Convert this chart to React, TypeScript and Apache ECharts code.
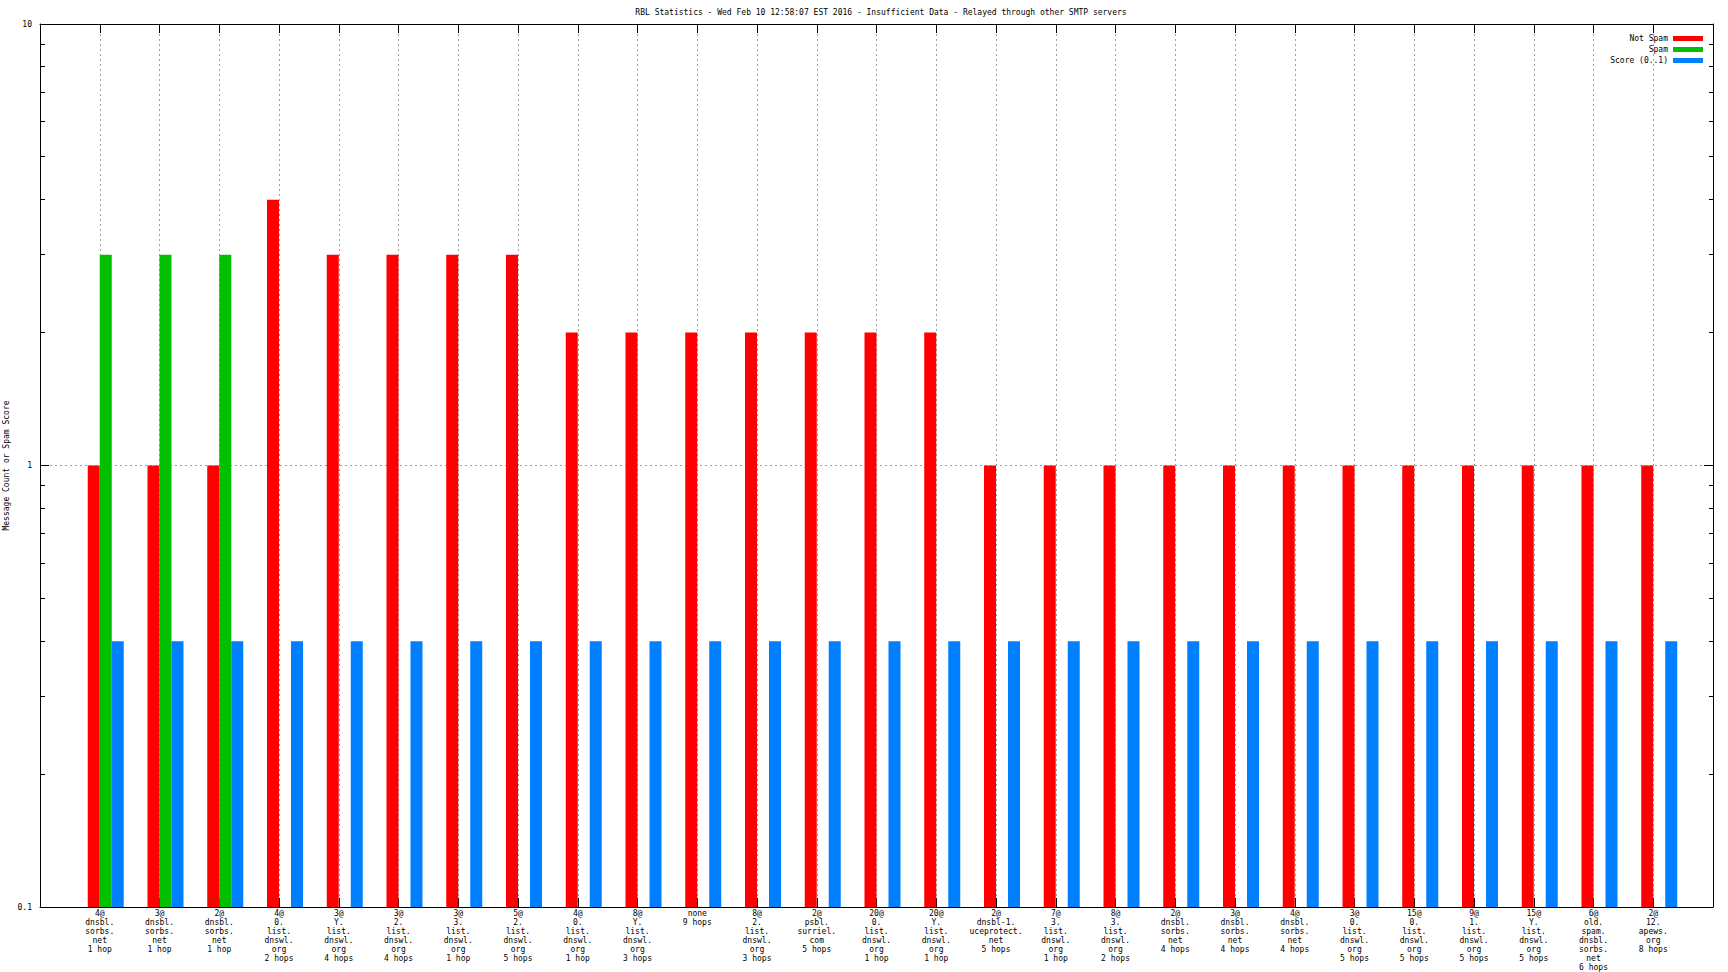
import React, { useEffect, useRef } from "react";
import * as echarts from "echarts";

const TITLE =
  "RBL Statistics - Wed Feb 10 12:58:07 EST 2016 - Insufficient Data - Relayed through other SMTP servers";
const Y_NAME = "Message Count or Spam Score";

const categories: string[] = [
  "4@\ndnsbl.\nsorbs.\nnet\n1 hop",
  "3@\ndnsbl.\nsorbs.\nnet\n1 hop",
  "2@\ndnsbl.\nsorbs.\nnet\n1 hop",
  "4@\n0.\nlist.\ndnswl.\norg\n2 hops",
  "3@\nY.\nlist.\ndnswl.\norg\n4 hops",
  "3@\n2.\nlist.\ndnswl.\norg\n4 hops",
  "3@\n3.\nlist.\ndnswl.\norg\n1 hop",
  "5@\n2.\nlist.\ndnswl.\norg\n5 hops",
  "4@\n0.\nlist.\ndnswl.\norg\n1 hop",
  "8@\nY.\nlist.\ndnswl.\norg\n3 hops",
  "none\n9 hops",
  "8@\n2.\nlist.\ndnswl.\norg\n3 hops",
  "2@\npsbl.\nsurriel.\ncom\n5 hops",
  "20@\n0.\nlist.\ndnswl.\norg\n1 hop",
  "20@\nY.\nlist.\ndnswl.\norg\n1 hop",
  "2@\ndnsbl-1.\nuceprotect.\nnet\n5 hops",
  "7@\n3.\nlist.\ndnswl.\norg\n1 hop",
  "8@\n3.\nlist.\ndnswl.\norg\n2 hops",
  "2@\ndnsbl.\nsorbs.\nnet\n4 hops",
  "3@\ndnsbl.\nsorbs.\nnet\n4 hops",
  "4@\ndnsbl.\nsorbs.\nnet\n4 hops",
  "3@\n0.\nlist.\ndnswl.\norg\n5 hops",
  "15@\n0.\nlist.\ndnswl.\norg\n5 hops",
  "9@\n1.\nlist.\ndnswl.\norg\n5 hops",
  "15@\nY.\nlist.\ndnswl.\norg\n5 hops",
  "6@\nold.\nspam.\ndnsbl.\nsorbs.\nnet\n6 hops",
  "2@\n12.\napews.\norg\n8 hops",
];

const notSpam: (number | null)[] = [
  1, 1, 1, 4, 3, 3, 3, 3, 2, 2, 2, 2, 2, 2, 2, 1, 1, 1, 1, 1, 1, 1, 1, 1, 1, 1, 1,
];
const spam: (number | null)[] = [
  3, 3, 3, null, null, null, null, null, null, null, null, null, null, null, null,
  null, null, null, null, null, null, null, null, null, null, null, null,
];
const score: (number | null)[] = [
  0.4, 0.4, 0.4, 0.4, 0.4, 0.4, 0.4, 0.4, 0.4, 0.4, 0.4, 0.4, 0.4, 0.4, 0.4, 0.4,
  0.4, 0.4, 0.4, 0.4, 0.4, 0.4, 0.4, 0.4, 0.4, 0.4, 0.4,
];
const seriesNames = ["Not Spam", "Spam", "Score (0..1)"];
const seriesColors = ["#ff0000", "#00c000", "#0080ff"];

const yMin = 0.1;
const yMax = 10;
const yMinorTicks = [0.2, 0.3, 0.4, 0.5, 0.6, 0.7, 0.8, 0.9, 2, 3, 4, 5, 6, 7, 8, 9];

const FONT = "'DejaVu Sans Mono', 'Liberation Mono', monospace";
const GRID = "#a0a0a0";

export default function App() {
  const ref = useRef<HTMLDivElement>(null);

  useEffect(() => {
    if (!ref.current) return;
    const chart = echarts.init(ref.current, undefined, { renderer: "svg" });
    const xMin = -1;
    const xMax = categories.length;
    const barCommon = {
      type: "bar" as const,
      xAxisIndex: 0,
      yAxisIndex: 0,
      barWidth: 12,
      barGap: "0%",
      silent: true,
    };
    const toPairs = (arr: (number | null)[]) => arr.map((v, i) => [i, v]);

    const option: any = {
      animation: false,
      backgroundColor: "#ffffff",
      textStyle: { fontFamily: FONT, color: "#000" },
      title: {
        text: TITLE,
        left: 876,
        top: 3,
        textAlign: "center",
        textStyle: { fontFamily: FONT, fontSize: 8, fontWeight: "normal", color: "#000" },
      },
      legend: {
        data: seriesNames,
        orient: "vertical",
        right: 20,
        top: 28,
        padding: 5,
        align: "right",
        itemWidth: 30,
        itemHeight: 5,
        itemGap: 0,
        icon: "rect",
        selectedMode: false,
        textStyle: { fontFamily: FONT, fontSize: 8, lineHeight: 11, color: "#000" },
      },
      grid: { left: 40, right: 15, top: 24, bottom: 65, containLabel: false },
      xAxis: [
        {
          type: "value",
          position: "bottom",
          min: xMin,
          max: xMax,
          interval: 1,
          axisLine: { show: true, onZero: false, lineStyle: { color: "#000", width: 1 } },
          axisTick: { show: true, inside: true, length: 9, lineStyle: { color: "#000" } },
          axisLabel: {
            show: true,
            margin: 2,
            color: "#000",
            fontFamily: FONT,
            fontSize: 8,
            lineHeight: 9,
            align: "center",
            verticalAlign: "top",
            formatter: (v: number) => categories[v] ?? "",
          },
          splitLine: {
            show: true,
            showMinLine: false,
            showMaxLine: false,
            lineStyle: { color: GRID, type: [2, 3], width: 1 },
          },
        },
        {
          type: "value",
          position: "top",
          min: xMin,
          max: xMax,
          interval: 1,
          axisLine: { show: true, onZero: false, lineStyle: { color: "#000", width: 1 } },
          axisTick: { show: true, inside: true, length: 9, lineStyle: { color: "#000" } },
          axisLabel: { show: false },
          splitLine: { show: false },
        },
      ],
      yAxis: [
        {
          type: "log",
          logBase: 10,
          min: yMin,
          max: yMax,
          startValue: yMin,
          position: "left",
          axisLine: { show: true, onZero: false, lineStyle: { color: "#000", width: 1 } },
          axisTick: { show: true, inside: true, length: 9, lineStyle: { color: "#000" } },
          axisLabel: { show: true, margin: 8, color: "#000", fontFamily: FONT, fontSize: 8 },
          splitLine: {
            show: true,
            showMinLine: false,
            showMaxLine: false,
            lineStyle: { color: GRID, type: [2, 3], width: 1 },
          },
        },
        {
          type: "log",
          logBase: 10,
          min: yMin,
          max: yMax,
          position: "right",
          axisLine: { show: true, onZero: false, lineStyle: { color: "#000", width: 1 } },
          axisTick: { show: true, inside: true, length: 9, lineStyle: { color: "#000" } },
          axisLabel: { show: false },
          splitLine: { show: false },
        },
      ],
      series: [
        { ...barCommon, name: "_pad", data: categories.map((_, i) => [i, null]) },
        { ...barCommon, name: seriesNames[0], data: toPairs(notSpam), itemStyle: { color: seriesColors[0] } },
        { ...barCommon, name: seriesNames[1], data: toPairs(spam), itemStyle: { color: seriesColors[1] } },
        { ...barCommon, name: seriesNames[2], data: toPairs(score), itemStyle: { color: seriesColors[2] } },
      ],
    };
    chart.setOption(option);

    const xl = chart.convertToPixel({ xAxisIndex: 0 }, xMin) as number;
    const xr = chart.convertToPixel({ xAxisIndex: 0 }, xMax) as number;
    const yTop = chart.convertToPixel({ yAxisIndex: 0 }, yMax) as number;
    const yBot = chart.convertToPixel({ yAxisIndex: 0 }, yMin) as number;
    const crisp = (v: number) => Math.floor(v) + 0.5;
    const graphics: any[] = [];
    yMinorTicks.forEach((v) => {
      const y = crisp(chart.convertToPixel({ yAxisIndex: 0 }, v) as number);
      const lx = crisp(xl);
      const rx = crisp(xr);
      graphics.push({
        type: "line",
        silent: true,
        shape: { x1: lx, y1: y, x2: lx + 4.5, y2: y },
        style: { stroke: "#000", lineWidth: 1 },
      });
      graphics.push({
        type: "line",
        silent: true,
        shape: { x1: rx - 4.5, y1: y, x2: rx, y2: y },
        style: { stroke: "#000", lineWidth: 1 },
      });
    });
    graphics.push({
      type: "text",
      x: 6,
      y: (yTop + yBot) / 2,
      rotation: Math.PI / 2,
      silent: true,
      style: {
        text: Y_NAME,
        fill: "#000",
        font: `8px ${FONT}`,
        textAlign: "center",
        textVerticalAlign: "middle",
      },
    });
    chart.setOption({ graphic: graphics });

    return () => {
      chart.dispose();
    };
  }, []);

  return (
    <div
      ref={ref}
      style={{ position: "absolute", left: 0, top: 0, width: 1728, height: 972, background: "#fff" }}
    />
  );
}
